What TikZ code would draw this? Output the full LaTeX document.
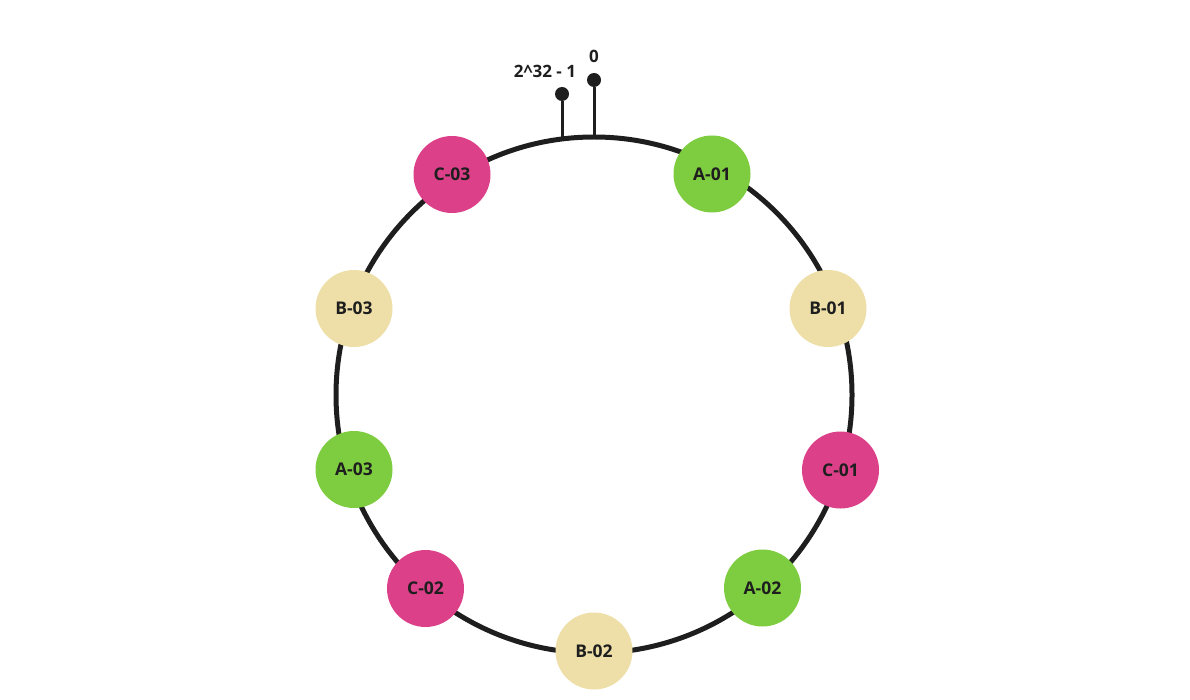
\documentclass[tikz,border=0pt]{standalone}
\usepackage{fontspec}
\setmainfont{Open Sans}
\definecolor{ink}{HTML}{1E1E1E}
\definecolor{grpA}{HTML}{7ECC3F}
\definecolor{grpB}{HTML}{EEDFA8}
\definecolor{grpC}{HTML}{DC4088}
\tikzset{
  vnode/.style={circle, minimum size=77pt, inner sep=0pt, text=ink, font=\fontsize{17.5}{20}\selectfont\bfseries},
  pin/.style={circle, fill=ink, minimum size=14pt, inner sep=0pt},
  pinlabel/.style={text=ink, font=\fontsize{17}{20}\selectfont\bfseries}
}

\begin{document}
\begin{tikzpicture}[x=1pt, y=-1pt]
\useasboundingbox (0,0) rectangle (1190,700);
\coordinate (O) at (594,395);
\coordinate (R0) at (594,137);
\coordinate (RN) at (562,139);
\draw[ink, line width=5pt] (O) circle (258);
% hash ring markers
\node[pin] (P0) at (594,80) {};
\node[pin] (PN) at (562,94) {};
\draw[ink, line width=3pt] (R0) -- (P0);
\draw[ink, line width=3pt] (RN) -- (PN);
\node[pinlabel] (L0) at (594,56) {0};
\node[pinlabel] (LN) at (545,71) {2\^{}32 - 1};
% virtual nodes
\node[vnode, fill=grpA] (A01) at (712,174) {A-01};
\node[vnode, fill=grpB] (B01) at (828,308.5) {B-01};
\node[vnode, fill=grpC] (C01) at (840.5,470) {C-01};
\node[vnode, fill=grpA] (A02) at (762.5,588) {A-02};
\node[vnode, fill=grpB] (B02) at (594,651) {B-02};
\node[vnode, fill=grpC] (C02) at (425.5,588.5) {C-02};
\node[vnode, fill=grpA] (A03) at (354,469.5) {A-03};
\node[vnode, fill=grpB] (B03) at (354,308.5) {B-03};
\node[vnode, fill=grpC] (C03) at (452,174.5) {C-03};
\end{tikzpicture}
\end{document}
